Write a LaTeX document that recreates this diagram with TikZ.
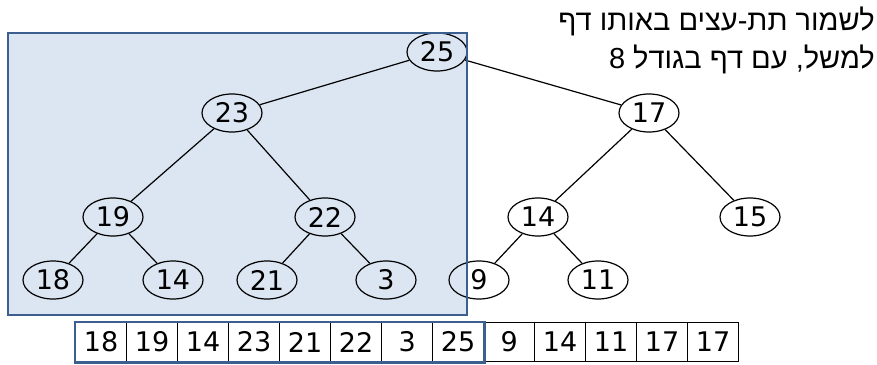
\documentclass[tikz,border=0pt]{standalone}
\usepackage{fontspec}
\setmainfont{DejaVu Sans}
\newfontfamily\hebfont[Script=Hebrew]{Liberation Sans}
\TeXXeTstate=1
\usepackage{xcolor}
\usepackage{tikz}
\usetikzlibrary{shapes.geometric}
\definecolor{pagefill}{HTML}{DCE6F2}
\definecolor{pageline}{HTML}{3B5F8F}
\tikzset{
  key/.style={ellipse, draw=black, line width=1.2pt, minimum width=60pt,
    minimum height=38pt, inner sep=0pt, font=\fontsize{27}{30}\selectfont},
  edge/.style={draw=black, line width=1.2pt},
  cell/.style={draw=black, line width=1.2pt, minimum width=51pt,
    minimum height=39pt, inner sep=0pt, anchor=north west,
    font=\fontsize{27}{30}\selectfont},
  page/.style={draw=pageline, line width=2.6pt},
  note/.style={anchor=base east, inner sep=0pt,
    font=\hebfont\fontsize{29}{32}\selectfont}
}

\begin{document}
\begin{tikzpicture}[x=1pt, y=-1pt]
  \useasboundingbox (0,0) rectangle (877,364);

  % the page that holds the top subtree
  \fill[pagefill] (8,33) rectangle (467,315);

  % heap as a tree
  \node[key] (n25) at (437,52) {25};
  \node[key] (n23) at (232,113) {23};
  \node[key] (n17) at (649,113) {17};
  \node[key] (n19) at (113,217) {19};
  \node[key] (n22) at (325,217) {22};
  \node[key] (n14a) at (538,217) {14};
  \node[key] (n15) at (750,217) {15};
  \node[key] (n18) at (53,280) {18};
  \node[key] (n14b) at (173,280) {14};
  \node[key] (n21) at (267,280) {21};
  \node[key] (n3) at (386,280) {3};
  \node[key] (n9) at (479,280) {9};
  \node[key] (n11) at (598,280) {11};

  \draw[edge] (n25) -- (n23);
  \draw[edge] (n25) -- (n17);
  \draw[edge] (n23) -- (n19);
  \draw[edge] (n23) -- (n22);
  \draw[edge] (n17) -- (n14a);
  \draw[edge] (n17) -- (n15);
  \draw[edge] (n19) -- (n18);
  \draw[edge] (n19) -- (n14b);
  \draw[edge] (n22) -- (n21);
  \draw[edge] (n22) -- (n3);
  \draw[edge] (n14a) -- (n9);
  \draw[edge] (n14a) -- (n11);

  \draw[page] (8,33) rectangle (467,315);

  % heap as an array
  \foreach \v [count=\i] in {18,19,14,23,21,22,3,25,9,14,11,17,17}
    \node[cell] (cell\i) at ({75+51*(\i-1)},322) {\v};
  \draw[page] (cell1.north west) rectangle (cell8.south east);

  \node[note] (line1) at (875,30) {\beginR לשמור תת-עצים באותו דף\endR};
  \node[note] (line2) at (875,68) {\beginR למשל, עם דף בגודל 8\endR};
\end{tikzpicture}
\end{document}
